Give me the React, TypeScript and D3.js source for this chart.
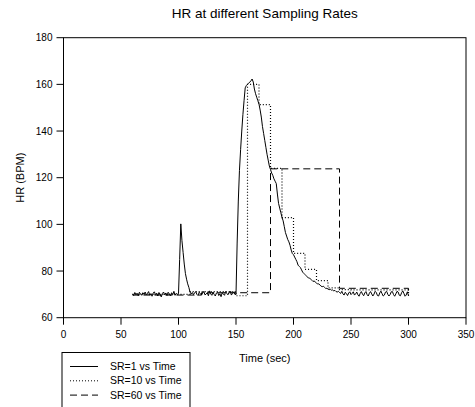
import * as d3 from 'd3'

// SR=1: one sample per second, t = 60 .. 300
const sr1Start = 60
const sr1Values = [
  70.2, 69.5, 70.8, 69.9, 70.5, 69.4, 70.9, 70.1, 69.6, 70.7,
  70.0, 71.0, 69.8, 70.4, 71.2, 69.7, 70.3, 69.2, 70.6, 71.1,
  69.9, 70.5, 69.3, 70.8, 70.0, 68.9, 70.4, 71.0, 69.8, 70.6,
  69.5, 70.9, 70.2, 69.4, 70.7, 69.9, 71.3, 69.6, 70.4, 70.0,
  70.3, 85.0, 100.2, 93.0, 88.0, 83.0, 79.0, 76.5, 74.5, 73.0,
  71.0, 70.2, 70.8, 69.9, 70.6, 71.2, 70.0, 69.5, 70.9, 70.3,
  69.7, 70.5, 71.3, 69.8, 70.1, 70.7, 69.4, 71.5, 70.2, 69.6,
  70.8, 70.0, 69.3, 70.6, 71.0, 69.5, 70.3, 69.0, 70.7, 70.1,
  69.6, 71.2, 70.4, 69.8, 70.9, 71.4, 69.7, 70.5, 71.1, 70.0,
  70.0, 92.0, 110.0, 123.0, 132.0, 140.0, 147.0, 153.0, 158.5, 159.5,
  160.0, 160.5, 161.0, 161.5, 162.3, 161.0, 158.0, 156.0, 154.5, 153.0,
  151.5, 149.0, 146.0, 142.0, 139.0, 136.0, 133.0, 130.0, 127.5, 125.0,
  123.5, 122.0, 121.0, 119.5, 118.5, 117.5, 113.0, 109.0, 107.0, 105.0,
  103.0, 101.5, 99.0, 96.5, 95.0, 93.5, 92.5, 91.0, 89.0, 87.5,
  87.0, 86.0, 85.0, 84.0, 82.5, 82.0, 81.5, 80.5, 79.5, 79.0,
  78.5, 78.0, 77.5, 77.0, 77.0, 76.5, 76.0, 75.5, 75.8, 75.2,
  74.8, 74.5, 74.5, 74.0, 73.5, 73.3, 73.5, 73.0, 72.5, 72.6,
  72.3, 72.0, 72.2, 71.8, 71.9, 71.5, 71.7, 71.2, 71.0, 71.3,
  70.8, 70.4, 71.3, 70.2, 69.7, 70.9, 70.3, 69.5, 70.6, 71.1,
  69.9, 70.4, 71.1, 69.7, 70.2, 71.0, 69.8, 69.2, 70.4, 71.2,
  70.1, 69.4, 70.6, 71.2, 69.9, 69.3, 70.5, 71.2, 70.2, 69.3,
  70.1, 71.3, 70.8, 69.5, 69.3, 70.6, 71.4, 70.3, 69.3, 69.7,
  71.0, 71.3, 70.0, 69.3, 69.9, 71.1, 71.2, 69.9, 69.2, 70.2,
  71.3, 71.0, 69.6, 69.4, 70.7, 71.5, 70.4, 69.2, 69.7, 71.1,
  69.4,
]

// SR=10: one sample every 10 s
const sr10Times = [60, 70, 80, 90, 100, 110, 120, 130, 140, 150, 160, 170, 180, 190, 200, 210, 220, 230, 240, 250, 260, 270, 280, 290, 300]
const sr10Values = [70.0, 70.0, 70.0, 70.0, 70.0, 71.2, 71.2, 71.2, 71.2, 69.4, 160.0, 151.3, 124.0, 102.9, 87.6, 80.7, 75.9, 72.8, 72.0, 71.9, 71.9, 71.9, 71.9, 71.9, 69.5]

// SR=60: one sample every 60 s
const sr60Times = [60, 120, 180, 240, 300]
const sr60Values = [69.7, 70.7, 123.8, 72.6, 69.5]

const xTicks = [0, 50, 100, 150, 200, 250, 300, 350]
const yTicks = [60, 80, 100, 120, 140, 160, 180]

const legendItems = [
  { label: 'SR=1 vs Time', dash: 'none' },
  { label: 'SR=10 vs Time', dash: '1,2' },
  { label: 'SR=60 vs Time', dash: '7,4' },
]

const W = 475
const H = 407
const font = 'Liberation Sans, Arial, sans-serif'

export default function App() {
  const x = d3.scaleLinear().domain([0, 350]).range([63.5, 466])
  const y = d3.scaleLinear().domain([60, 180]).range([317.7, 37.7])

  const sr1 = sr1Values.map((v, i) => [sr1Start + i, v] as [number, number])
  const sr10 = sr10Times.map((t, i) => [t, sr10Values[i]] as [number, number])
  const sr60 = sr60Times.map((t, i) => [t, sr60Values[i]] as [number, number])

  const plain = d3.line().x(d => x(d[0])).y(d => y(d[1]))
  const step = d3.line().x(d => x(d[0])).y(d => y(d[1])).curve(d3.curveStepAfter)

  const [x0, x1] = x.range()
  const [yb, yt] = y.range()

  return (
    <svg width={W} height={H} style={{ position: 'absolute', left: 0, top: 0 }} fontFamily={font}>
      <rect width={W} height={H} fill="#fff" />
      <text x={(x0 + x1) / 2} y={18} textAnchor="middle" fontSize={13.5}>HR at different Sampling Rates</text>

      <rect x={x0} y={yt} width={x1 - x0} height={yb - yt} fill="none" stroke="#000" strokeWidth={1} />

      {yTicks.map(t => (
        <g key={'y' + t}>
          <line x1={x0 - 7} x2={x0} y1={y(t)} y2={y(t)} stroke="#000" />
          <text x={x0 - 11} y={y(t)} dy="0.35em" textAnchor="end" fontSize={10}>{t}</text>
        </g>
      ))}
      {xTicks.map(t => (
        <g key={'x' + t}>
          <line x1={x(t)} x2={x(t)} y1={yb} y2={yb + 7} stroke="#000" />
          <text x={x(t)} y={338} textAnchor="middle" fontSize={10}>{t}</text>
        </g>
      ))}

      <text x={(x0 + x1) / 2} y={362} textAnchor="middle" fontSize={11}>Time (sec)</text>
      <text transform={`translate(24, ${(yb + yt) / 2}) rotate(-90)`} textAnchor="middle" fontSize={11}>HR (BPM)</text>

      <path d={step(sr60) ?? ''} fill="none" stroke="#000" strokeWidth={1} strokeDasharray="7,4" />
      <path d={step(sr10) ?? ''} fill="none" stroke="#000" strokeWidth={1.2} strokeDasharray="1,2" />
      <path d={plain(sr1) ?? ''} fill="none" stroke="#000" strokeWidth={1} />

      <rect x={62} y={352.5} width={128} height={60} fill="#fff" stroke="#000" />
      {legendItems.map((d, i) => (
        <g key={d.label} transform={`translate(0, ${366.5 + i * 14.3})`}>
          <line x1={70} x2={98} y1={0} y2={0} stroke="#000" strokeDasharray={d.dash} />
          <text x={110} y={0} dy="0.35em" fontSize={10.5}>{d.label}</text>
        </g>
      ))}
    </svg>
  )
}
